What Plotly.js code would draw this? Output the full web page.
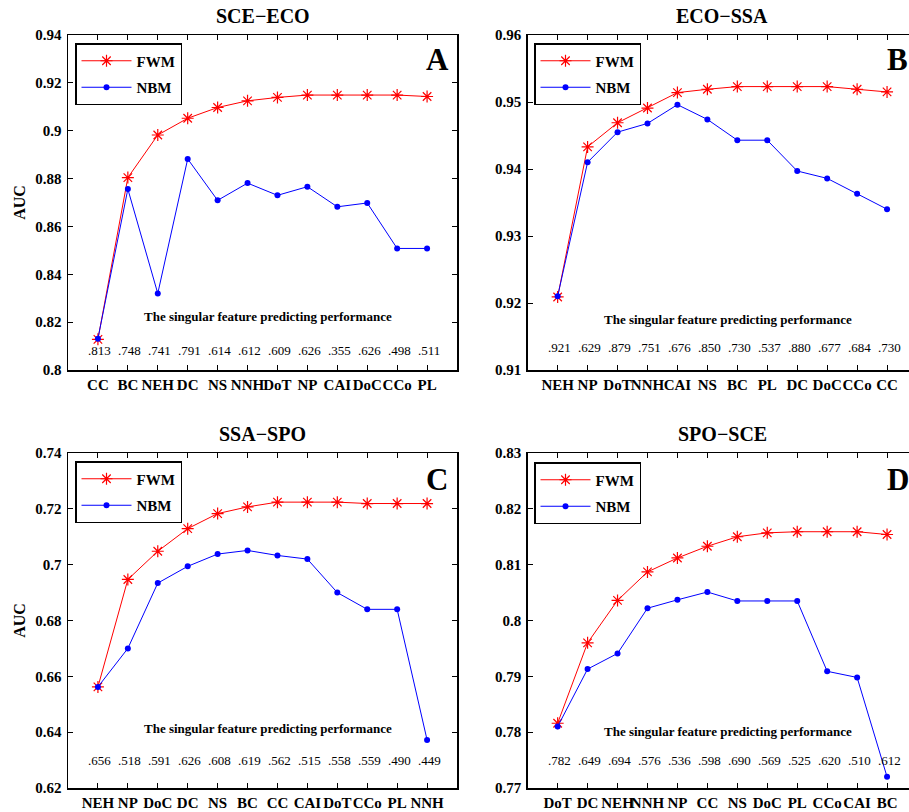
<!DOCTYPE html>
<html>
<head>
<meta charset="utf-8">
<script src="https://cdn.plot.ly/plotly-3.0.1.min.js"></script>
<style>
html,body{margin:0;padding:0;overflow:hidden;background:#fff;width:909px;height:812px;}
#chart{width:930px;height:812px;}
</style>
</head>
<body>
<div id="chart"></div>
<script>
// Panel A: SCE-ECO
const catsA = ["CC","BC","NEH","DC","NS","NNH","DoT","NP","CAI","DoC","CCo","PL"];
const fwmA = [0.8128,0.8804,0.8982,0.9052,0.9097,0.9125,0.9139,0.9149,0.9149,0.9149,0.9149,0.9143];
const nbmA = [0.8131,0.8756,0.8320,0.8882,0.8709,0.8781,0.8730,0.8766,0.8682,0.8698,0.8508,0.8508];
const singleA = [".813",".748",".741",".791",".614",".612",".609",".626",".355",".626",".498",".511"];

// Panel B: ECO-SSA
const catsB = ["NEH","NP","DoT","NNH","CAI","NS","BC","PL","DC","DoC","CCo","CC"];
const fwmB = [0.9209,0.9433,0.9469,0.9491,0.9514,0.9519,0.9523,0.9523,0.9523,0.9523,0.9519,0.9515];
const nbmB = [0.9210,0.9410,0.9455,0.9468,0.9496,0.9474,0.9443,0.9443,0.9397,0.9386,0.9363,0.9340];
const singleB = [".921",".629",".879",".751",".676",".850",".730",".537",".880",".677",".684",".730"];

// Panel C: SSA-SPO
const catsC = ["NEH","NP","DoC","DC","NS","BC","CC","CAI","DoT","CCo","PL","NNH"];
const fwmC = [0.6562,0.6947,0.7048,0.7129,0.7183,0.7207,0.7224,0.7224,0.7224,0.7219,0.7219,0.7219];
const nbmC = [0.6562,0.6700,0.6934,0.6994,0.7038,0.7051,0.7033,0.7020,0.6900,0.6840,0.6840,0.6372];
const singleC = [".656",".518",".591",".626",".608",".619",".562",".515",".558",".559",".490",".449"];

// Panel D: SPO-SCE
const catsD = ["DoT","DC","NEH","NNH","NP","CC","NS","DoC","PL","CCo","CAI","BC"];
const fwmD = [0.7816,0.7960,0.8036,0.8087,0.8112,0.8133,0.8150,0.8157,0.8159,0.8159,0.8159,0.8154];
const nbmD = [0.7810,0.7913,0.7941,0.8022,0.8037,0.8051,0.8035,0.8035,0.8035,0.7909,0.7898,0.7720];
const singleD = [".782",".649",".694",".576",".536",".598",".690",".569",".525",".620",".510",".612"];

const titles = ["SCE\u2212ECO","ECO\u2212SSA","SSA\u2212SPO","SPO\u2212SCE"];
const letters = ["A","B","C","D"];
const seriesNames = ["FWM","NBM"];
const yRanges = [[0.8,0.94],[0.91,0.96],[0.62,0.74],[0.77,0.83]];
const yDticks = [0.02,0.01,0.02,0.01];

const panels = [
  {cats:catsA,fwm:fwmA,nbm:nbmA,single:singleA},
  {cats:catsB,fwm:fwmB,nbm:nbmB,single:singleB},
  {cats:catsC,fwm:fwmC,nbm:nbmC,single:singleC},
  {cats:catsD,fwm:fwmD,nbm:nbmD,single:singleD}
];

const W = 930, H = 812;
const FONT = "Liberation Serif, Times New Roman, serif";
const xDomains = [[68/W,457/W],[527.7/W,917/W],[68/W,457/W],[527.7/W,917/W]];
const yDomains = [[1-370/H,1-35/H],[1-370/H,1-35/H],[1-788/H,1-453/H],[1-788/H,1-453/H]];
const legendPos = [[75/W,1-43/H],[534/W,1-43/H],[75/W,1-461/H],[534/W,1-462/H]];
const numY = [0.058,0.067,0.081,0.082];
const capY = [0.161,0.152,0.179,0.169];

const data = [];
const layout = {
  width: W, height: H,
  margin:{l:0,r:0,t:0,b:0},
  paper_bgcolor:"#fff", plot_bgcolor:"#fff",
  font:{family:FONT,color:"#000"},
  annotations:[]
};

panels.forEach((p,i)=>{
  const n = i+1;
  const xa = n===1 ? "x" : "x"+n;
  const ya = n===1 ? "y" : "y"+n;
  const lg = n===1 ? "legend" : "legend"+n;
  data.push({
    type:"scatter", mode:"lines+markers", x:p.cats, y:p.fwm, name:seriesNames[0],
    xaxis:xa, yaxis:ya, legend:lg, legendgroup:"f"+n,
    line:{color:"#ff0000",width:1},
    marker:{symbol:"asterisk-open",size:10,color:"#ff0000",line:{color:"#ff0000",width:1.2}}
  });
  data.push({
    type:"scatter", mode:"lines+markers", x:p.cats, y:p.nbm, name:seriesNames[1],
    xaxis:xa, yaxis:ya, legend:lg, legendgroup:"n"+n,
    line:{color:"#0000ff",width:1},
    marker:{symbol:"circle",size:6,color:"#0000ff"}
  });
  const axKeyX = n===1 ? "xaxis" : "xaxis"+n;
  const axKeyY = n===1 ? "yaxis" : "yaxis"+n;
  layout[axKeyX] = {
    domain:xDomains[i], anchor:ya, type:"category", range:[-1,12],
    showgrid:false, zeroline:false, showline:true, linecolor:"#000", linewidth:1.5,
    mirror:"allticks", ticks:"inside", ticklen:5, tickwidth:1, tickcolor:"#000",
    tickangle:0, ticklabelstandoff:0,
    tickfont:{family:FONT,size:15,weight:"bold",color:"#000"}
  };
  layout[axKeyY] = {
    domain:yDomains[i], anchor:xa, range:yRanges[i], dtick:yDticks[i], tick0:0,
    showgrid:false, zeroline:false, showline:true, linecolor:"#000", linewidth:1.5,
    mirror:"allticks", ticks:"inside", ticklen:5, tickwidth:1, tickcolor:"#000",
    ticklabelstandoff:2,
    tickfont:{family:FONT,size:15,weight:"bold",color:"#000"}
  };
  if (i===0 || i===2) {
    layout[axKeyY].title = {text:"AUC", font:{family:FONT,size:16,weight:"bold",color:"#000"}, standoff:5};
  }
  layout[lg] = {
    x:legendPos[i][0], y:legendPos[i][1], xanchor:"left", yanchor:"top",
    xref:"paper", yref:"paper",
    bgcolor:"#fff", bordercolor:"#000", borderwidth:1.5,
    font:{family:FONT,size:15,weight:"bold",color:"#000"},
    itemwidth:50, tracegroupgap:4, traceorder:"grouped"
  };
  layout.annotations.push({
    text:titles[i], xref:xa+" domain", yref:ya+" domain", x:0.5, y:1,
    xanchor:"center", yanchor:"bottom", yshift:6, showarrow:false,
    font:{family:FONT,size:20,weight:"bold",color:"#000"}
  });
  layout.annotations.push({
    text:letters[i], xref:xa+" domain", yref:ya+" domain",
    x:(n%2===1)?0.949:0.950, y:(n<=2)?0.928:0.920,
    xanchor:"center", yanchor:"middle", showarrow:false,
    font:{family:FONT,size:31,weight:"bold",color:"#000"}
  });
  layout.annotations.push({
    text:"The singular feature predicting performance", xref:xa+" domain", yref:ya+" domain",
    x:0.514, y:capY[i], xanchor:"center", yanchor:"middle", showarrow:false,
    font:{family:FONT,size:13,weight:"bold",color:"#000"}
  });
  p.cats.forEach((c,k)=>{
    layout.annotations.push({
      text:p.single[k], xref:xa, yref:ya+" domain", x:c, y:numY[i],
      xanchor:"center", yanchor:"middle", showarrow:false, xshift:2,
      font:{family:FONT,size:13,color:"#000"}
    });
  });
});

Plotly.newPlot("chart", data, layout, {displayModeBar:false, staticPlot:true});
</script>
</body>
</html>
